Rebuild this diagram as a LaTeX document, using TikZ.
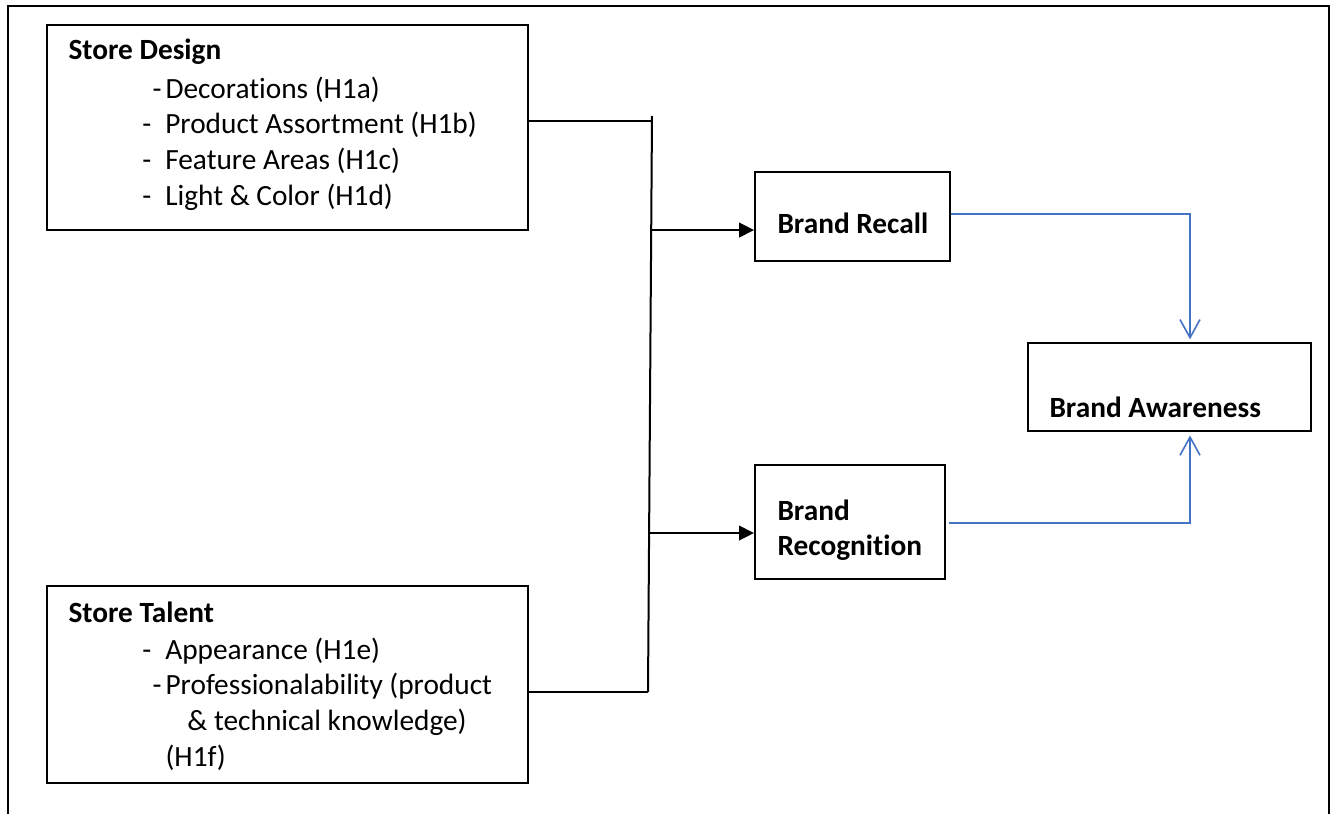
\documentclass[tikz,border=0pt]{standalone}
\usepackage{fontspec}
\setmainfont{Carlito}[Ligatures=CommonOff]
\usetikzlibrary{arrows.meta,calc}
\definecolor{linkblue}{HTML}{4472C4}
\newcommand{\dashitem}[1]{\hspace*{27.7pt}\makebox[8.6pt][l]{-}#1}
\newcommand{\dashitemtight}[1]{\hspace*{31.5pt}\makebox[4.9pt][l]{-}#1}
\tikzset{
	box/.style={draw, line width=0.75pt, rectangle, inner sep=0pt},
	boxtext/.style={anchor=north west, align=left, inner sep=0pt, font=\fontsize{11}{13.4}\selectfont},
	headtext/.style={boxtext, font=\fontsize{11}{13.4}\selectfont\bfseries},
	feed/.style={line width=0.75pt, -{Triangle[length=5.6pt,width=5.5pt]}},
	link/.style={line width=0.6pt, color=linkblue, -{Straight Barb[length=6.8pt,width=7.5pt]}}
}

\begin{document}
\begin{tikzpicture}[x=0.375pt, y=-0.375pt]
			%%%%% START %%%%%
			\useasboundingbox (0,0) rectangle (1330,814);
			
			\draw[line width=0.75pt] (8,814) -- (8,6) -- (1329,6) -- (1329,814);
			
			\node[box, minimum width=180.4pt, minimum height=76.9pt] (design) at (287.5,127.5) {};
			\node[boxtext] (designtxt) at (68,38) {\textbf{Store Design}\\[1.2pt]
				\dashitemtight{Decorations (H1a)}\\
				\dashitem{Product Assortment (H1b)}\\
				\dashitem{Feature Areas (H1c)}\\
				\dashitem{Light \& Color (H1d)}};
			
			\node[box, minimum width=180.4pt, minimum height=73.9pt] (talent) at (287.5,684.5) {};
			\node[boxtext] (talenttxt) at (68,601) {\textbf{Store Talent}\\[0.5pt]
				\dashitem{Appearance (H1e)}\\
				\dashitemtight{Professionalability (product}\\
				\hspace*{44.6pt}\& technical knowledge)\\
				\hspace*{36.4pt}(H1f)};
			
			\node[box, minimum width=73.1pt, minimum height=33.4pt] (recall) at (852.5,216.5) {};
			\node[headtext] (recalltxt) at (777,212) {Brand Recall};
			
			\node[box, minimum width=71.3pt, minimum height=42.8pt] (recog) at (850,522) {};
			\node[headtext] (recogtxt) at (777,499) {Brand\\Recognition};
			
			\node[box, minimum width=106.1pt, minimum height=33pt] (aware) at (1169.5,387) {};
			\node[headtext] (awaretxt) at (1049,396) {Brand Awareness};
			
			\coordinate (bartop) at (652,116);
			\coordinate (barbot) at (648,692);
			\coordinate (upfork) at ($(bartop)!0.198!(barbot)$);
			\coordinate (lowfork) at ($(bartop)!0.724!(barbot)$);
			
			\draw[line width=0.75pt] (bartop) -- (barbot);
			\draw[line width=0.75pt] (design.east |- 0,121) -- (bartop |- 0,121);
			\draw[line width=0.75pt] (talent.east |- barbot) -- (barbot);
			\draw[feed] (upfork) -- (recall.west |- upfork);
			\draw[feed] (lowfork) -- (recog.west |- lowfork);
			
			\draw[link, shorten >=1pt] (recall.east |- 0,214) -| (aware.north -| 1190,0);
			\draw[link, shorten >=1.3pt] ([xshift=1pt]recog.east |- 0,523) -| (aware.south -| 1190,0);
			
			%%%%% END %%%%%
\end{tikzpicture}
\end{document}
